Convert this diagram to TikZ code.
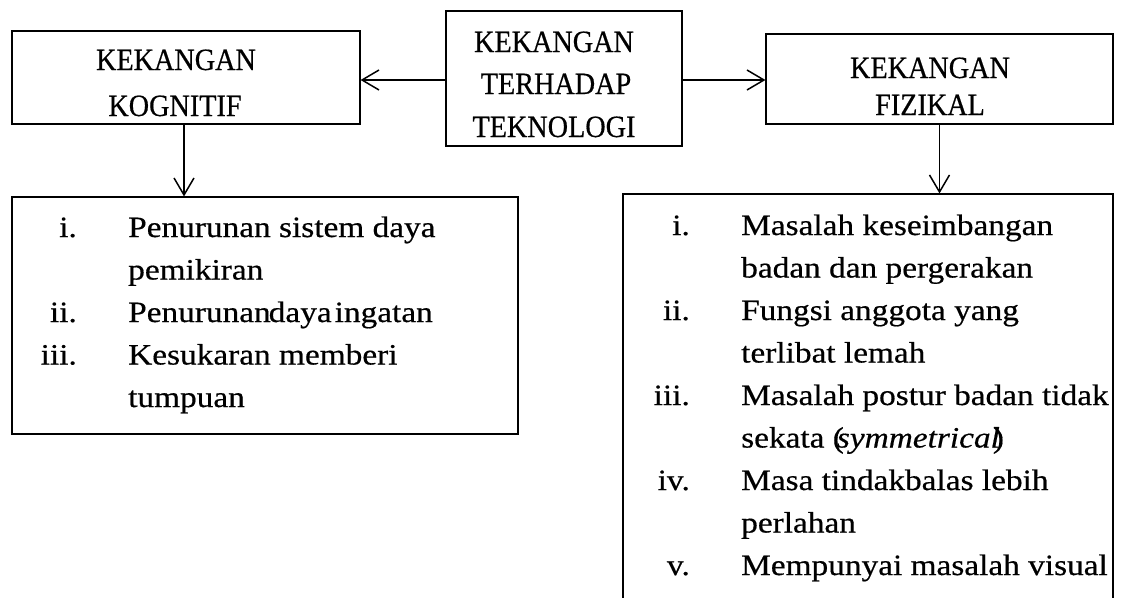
\documentclass[tikz,border=0pt]{standalone}
\usepackage{fontspec}
\setmainfont{Liberation Serif}[FakeStretch=1.13,FakeBold=0.5]
\newfontfamily\hdfont{Liberation Serif}[FakeStretch=0.91,FakeBold=0.5]
\usetikzlibrary{arrows.meta}
\begin{document}
\begin{tikzpicture}[x=1pt,y=-1pt,
  boxst/.style={draw,line width=1.1pt,inner sep=0pt},
  arr/.style={line width=1.5pt,-{Straight Barb[length=17pt,width=20pt,line width=1.5pt]}},
  hd/.style={inner sep=0pt,anchor=base,font=\hdfont\fontsize{31}{36}\selectfont},
  num/.style={inner sep=0pt,anchor=base east,font=\fontsize{29.5}{35}\selectfont},
  itm/.style={inner sep=0pt,anchor=base west,font=\fontsize{29.5}{35}\selectfont}]
\useasboundingbox (0,0) rectangle (1124,597);
\fill[white] (0,0) rectangle (1124,597);
% boxes
\node[boxst,minimum width=348pt,minimum height=93pt] (kog) at (186,77.5) {};
\node[boxst,minimum width=236pt,minimum height=135pt] (tek) at (564,78.5) {};
\node[boxst,minimum width=347pt,minimum height=90pt] (fiz) at (939.5,79) {};
\node[boxst,minimum width=506pt,minimum height=237pt] (lkog) at (265,315.5) {};
\node[boxst,minimum width=490pt,minimum height=420pt] (lfiz) at (868,404) {};
% header texts
\node[hd] (k1) at (176,70) {KEKANGAN};
\node[hd] (k2) at (175,116) {KOGNITIF};
\node[hd] (t1) at (554,52) {KEKANGAN};
\node[hd] (t2) at (556,94) {TERHADAP};
\node[hd] (t3) at (554,137) {TEKNOLOGI};
\node[hd] (f1) at (930,78) {KEKANGAN};
\node[hd] (f2) at (930,115) {FIZIKAL};
% left list
\node[num] (a1n) at (77,237) {i.};
\node[itm] (a1t) at (128,237) {Penurunan sistem daya};
\node[itm] (a1u) at (128,279.5) {pemikiran};
\node[num] (a2n) at (77,322) {ii.};
\node[itm] (a2t) at (128,322) {Penurunan\kern-2pt daya\kern3pt ingatan};
\node[num] (a3n) at (77,364.5) {iii.};
\node[itm] (a3t) at (128,364.5) {Kesukaran memberi};
\node[itm] (a3u) at (128,407) {tumpuan};
% right list
\node[num] (b1n) at (690,235) {i.};
\node[itm] (b1t) at (741,235) {Masalah keseimbangan};
\node[itm] (b1u) at (741,277.5) {badan dan pergerakan};
\node[num] (b2n) at (690,320) {ii.};
\node[itm] (b2t) at (741,320) {Fungsi anggota yang};
\node[itm] (b2u) at (741,362.5) {terlibat lemah};
\node[num] (b3n) at (690,405) {iii.};
\node[itm] (b3t) at (741,405) {Masalah postur badan tidak};
\node[itm] (b3u) at (741,447.5) {sekata (\kern-7pt\textit{symmetrical}\kern-7pt)};
\node[num] (b4n) at (690,490) {iv.};
\node[itm] (b4t) at (741,490) {Masa tindakbalas lebih};
\node[itm] (b4u) at (741,532.5) {perlahan};
\node[num] (b5n) at (690,575) {v.};
\node[itm] (b5t) at (741,575) {Mempunyai masalah visual};
% connectors
\coordinate (ya) at (0,80);
\coordinate (xa) at (184,0);
\draw[arr] (tek.west |- ya) -- (kog.east |- ya);
\draw[arr] (tek.east |- ya) -- (fiz.west |- ya);
\draw[arr] (kog.south -| xa) -- (lkog.north -| xa);
\draw[arr] (fiz.south) -- (fiz.south |- lfiz.north);
\end{tikzpicture}
\end{document}
